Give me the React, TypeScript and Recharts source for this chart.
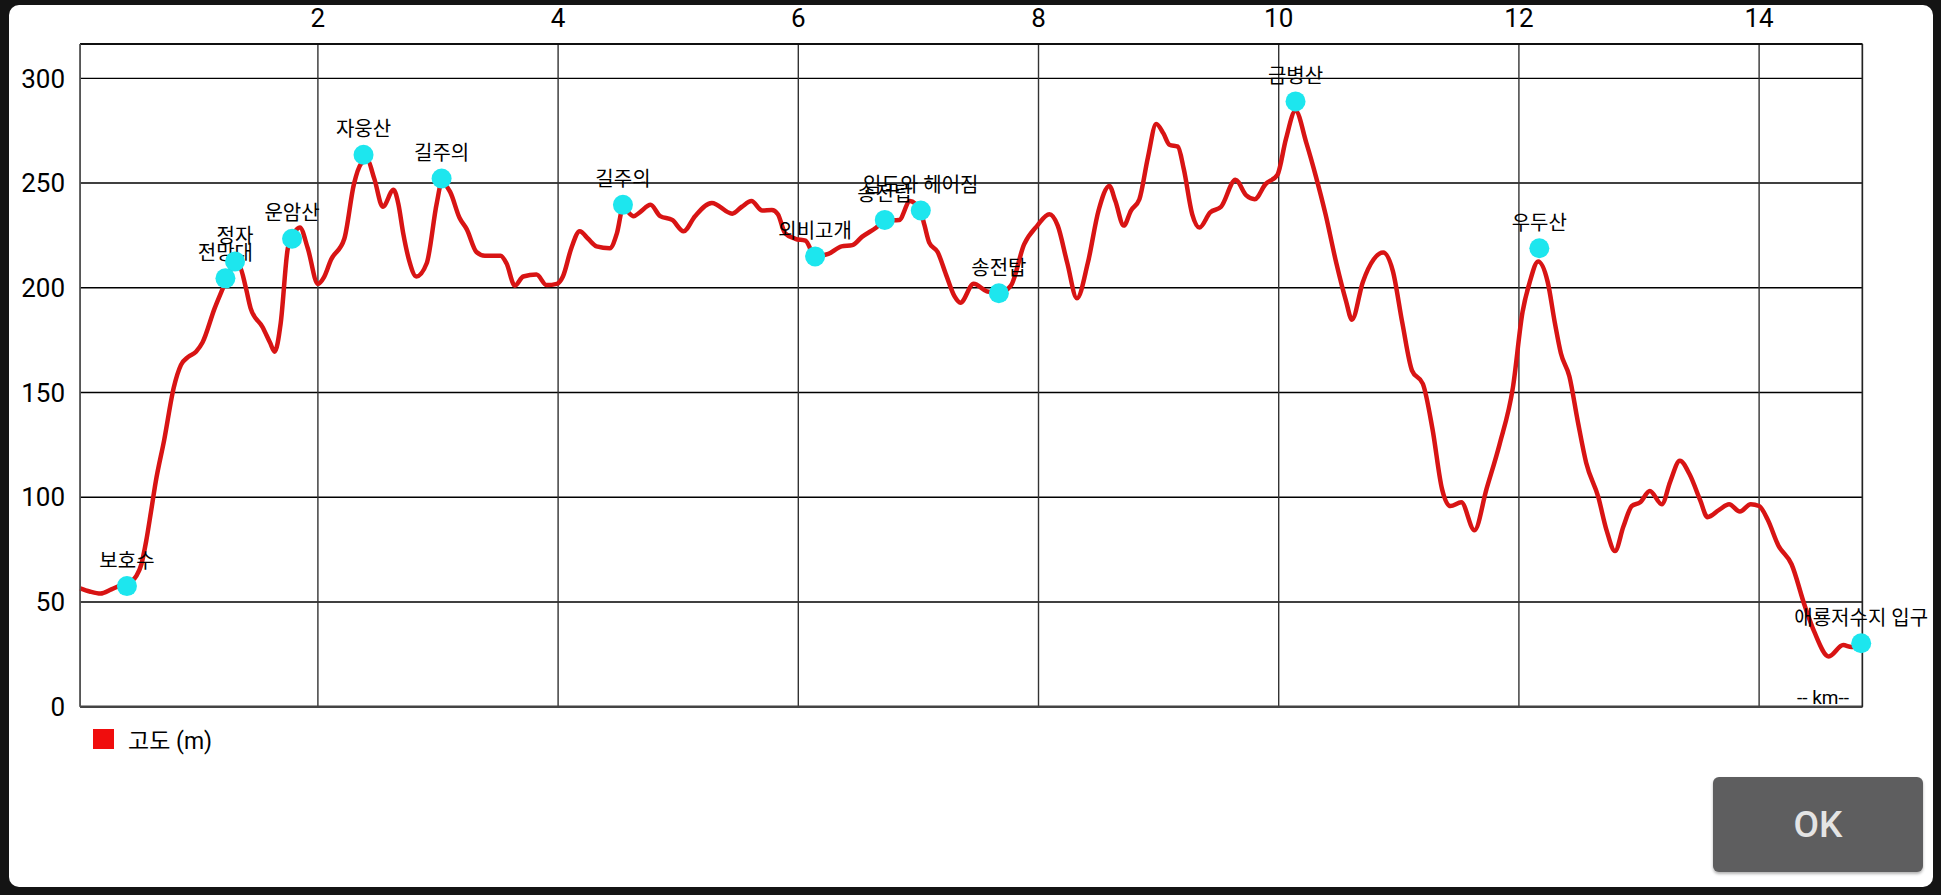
import React from 'react';
import { ComposedChart, Line, Scatter, XAxis, YAxis, CartesianGrid, Legend } from 'recharts';

const distanceKm = [0.02,0.1,0.19,0.28,0.36,0.45,0.49,0.53,0.57,0.61,0.65,0.72,0.8,0.86,0.92,0.985,1.04,1.14,1.21,1.26,1.31,1.35,1.4,1.44,1.54,1.6,1.64,1.69,1.75,1.8,1.85,1.915,2.0,2.05,2.11,2.22,2.3,2.36,2.41,2.47,2.54,2.63,2.67,2.71,2.76,2.82,2.906,2.99,3.03,3.1,3.18,3.24,3.32,3.39,3.52,3.57,3.64,3.71,3.82,3.904,3.99,4.04,4.11,4.18,4.25,4.32,4.43,4.49,4.54,4.63,4.68,4.77,4.85,4.95,5.045,5.14,5.28,5.45,5.53,5.61,5.7,5.78,5.83,5.89,5.975,6.06,6.14,6.25,6.36,6.45,6.53,6.65,6.72,6.84,6.93,7.02,7.05,7.09,7.16,7.23,7.3,7.35,7.46,7.57,7.67,7.77,7.88,7.99,8.09,8.16,8.24,8.32,8.41,8.5,8.59,8.64,8.71,8.77,8.84,8.91,8.98,9.04,9.09,9.16,9.21,9.28,9.34,9.43,9.52,9.64,9.73,9.8,9.89,9.99,10.06,10.14,10.23,10.31,10.39,10.48,10.56,10.61,10.7,10.79,10.87,10.95,11.03,11.11,11.2,11.28,11.36,11.43,11.52,11.63,11.73,11.84,11.95,12.03,12.09,12.16,12.24,12.3,12.35,12.42,12.49,12.56,12.66,12.73,12.8,12.87,12.94,13.01,13.09,13.19,13.26,13.34,13.42,13.51,13.57,13.67,13.75,13.84,13.93,14.0,14.07,14.16,14.27,14.38,14.46,14.58,14.7,14.77,14.85];
const elevationM = [56.5,55,54,56,58,60,62.6,68,79,93,107.5,127.3,152.4,163.2,167,169.5,174,190.2,200,207,211,210,200,190.2,181.2,174,169.5,183,219,226,228.8,219,201.9,205,213.5,223.4,249.5,259.3,261,252,238.7,246.8,240,226.1,213,205.4,211.7,240.5,250,245.9,233.3,227.9,217.1,215.3,215.3,211.7,201,205.4,206.3,201.3,201.9,205.4,218.9,227,223.4,219.8,218.9,226.1,238,234.2,236,239.6,234.2,232.4,227,234.2,240.5,235.4,238.7,241.4,236.9,237.2,235.1,226.1,223.4,222.5,215,216.2,219.8,220.4,224.3,228.8,232,232.4,241.4,236,230,221.6,217.1,206.3,196,192.9,201.9,198.3,197.4,201,220.7,229.7,235.1,229.7,211.7,195,211.7,236.9,248.6,241.4,229.7,236.9,242.3,262,278.2,273.7,268.3,267.4,256.6,235.1,228.8,236,238.7,251.6,244.1,242.3,249.5,254,271,284.5,269.2,253.1,235.1,211.7,193.8,184.8,202.7,213.5,216.8,208.1,183,160.5,154.2,132.7,103.9,95.8,97.6,84.2,103.9,125.5,152.4,188.4,202.7,212.6,202.7,183,168.6,157.8,136.3,116.5,100.3,84.2,74.3,86,95.8,97.6,103,96.7,107.5,117.4,111.1,98.5,90.5,94.1,96.7,93.2,96.7,95.8,89.5,77,68,48.2,35.7,24,29.4,28.5,30];

const markerNames = ['보호수','전망대','정자','운암산','자웅산','길주의','길주의','외비고개','송전탑','임도와 헤어짐','송전탑','금병산','우두산','애룡저수지 입구'];
const markerKm = [0.41,1.23,1.31,1.785,2.38,3.03,4.54,6.14,6.72,7.02,7.67,10.14,12.17,14.85];
const markerElev = [57.6,204.5,212.6,223.4,263.5,252.2,239.6,215,232.4,236.9,197.4,289,218.9,30.3];

const xTicks = [2,4,6,8,10,12,14];
const xEdgeTicks = [0.02,2,4,6,8,10,12,14,14.86];
const yTicks = [0,50,100,150,200,250,300];
const seriesName = '고도 (m)';
const unitLabel = '-- km--';

const profile = distanceKm.map((km, i) => ({ km, elev: elevationM[i] }));
const markers = markerNames.map((name, i) => ({ name, km: markerKm[i], elev: markerElev[i] }));

const FONT = "Roboto, 'Noto Sans CJK KR', sans-serif";

const MarkerShape = (props: any) => {
  const { cx, cy, payload } = props;
  if (cx == null || cy == null) return null;
  return (
    <g>
      <circle cx={cx} cy={cy} r={10} fill="#1de6ee" />
      <text x={cx} y={cy - 18.5} textAnchor="middle" fontSize={20} fontFamily={FONT} fill="#000">{payload.name}</text>
    </g>
  );
};

const LegendContent = () => (
  <div style={{ display: 'flex', alignItems: 'center', fontFamily: FONT, fontSize: 23, color: '#000' }}>
    <div style={{ width: 21, height: 20, background: '#f00d0d', marginRight: 14 }} />
    <span>{seriesName}</span>
  </div>
);

export default function App() {
  return (
    <div style={{ position: 'absolute', left: 0, top: 0, width: 1941, height: 895, background: '#141414', overflow: 'hidden' }}>
      <div style={{ position: 'absolute', left: 9, top: 5, width: 1924, height: 882, background: '#fff', borderRadius: 10 }} />
      <div style={{ position: 'absolute', left: 0, top: 0 }}>
        <ComposedChart width={1941} height={895} margin={{ top: 14, left: 20.1, right: 18.6, bottom: 180.3 }}>
          <CartesianGrid horizontal={true} vertical={false} stroke="#000" strokeWidth={1.4} />
          <CartesianGrid horizontal={false} vertical={true} stroke="#333" strokeWidth={1.4} />
          <XAxis xAxisId={0} dataKey="km" type="number" orientation="top" domain={[0.02, 14.86]} ticks={xTicks} height={30}
            tickLine={false} tickSize={6} tickMargin={11} axisLine={{ stroke: '#000', strokeWidth: 1.4 }}
            tick={{ fontSize: 26, fill: '#000', fontFamily: FONT }} />
          <XAxis xAxisId="b" dataKey="km" type="number" orientation="bottom" domain={[0.02, 14.86]} ticks={xEdgeTicks} height={8}
            tick={false} tickSize={8} tickLine={{ stroke: '#444', strokeWidth: 1.4 }} axisLine={{ stroke: '#444', strokeWidth: 2.6 }}
            label={{ content: () => (<text x={1823} y={704} textAnchor="middle" fontSize={19} fontFamily={FONT} fill="#000">{unitLabel}</text>) }} />
          <YAxis yAxisId={0} type="number" domain={[0, 316.4]} ticks={yTicks} width={60} orientation="left"
            tickLine={false} tickSize={6} tickMargin={9} axisLine={{ stroke: '#555', strokeWidth: 1.4 }}
            tick={{ fontSize: 26, fill: '#000', fontFamily: FONT }} />
          <YAxis yAxisId="r" type="number" domain={[0, 316.4]} ticks={yTicks} width={60} orientation="right"
            tickLine={false} tickSize={6} tickMargin={9} axisLine={{ stroke: '#222', strokeWidth: 1.4 }}
            tick={{ fontSize: 26, fill: '#000', fontFamily: FONT }} />
          <Legend layout="horizontal" align="center" verticalAlign="middle" content={<LegendContent />}
            wrapperStyle={{ left: 93, top: 722, width: 200, height: 30 }} />
          <Line data={profile} dataKey="elev" name={seriesName} type="monotone" stroke="#d81414" strokeWidth={4.5} dot={false} activeDot={false} isAnimationActive={false} />
          <Scatter data={markers} dataKey="elev" shape={<MarkerShape />} isAnimationActive={false} legendType="none" />
        </ComposedChart>
      </div>
      <div style={{ position: 'absolute', left: 1713, top: 777, width: 210, height: 95, background: '#5e5e5f', borderRadius: 6, boxShadow: '0 2px 3px rgba(0,0,0,0.3)', display: 'flex', alignItems: 'center', justifyContent: 'center', color: '#e4e4e4', fontFamily: FONT, fontSize: 37, fontWeight: 500 }}>OK</div>
    </div>
  );
}
